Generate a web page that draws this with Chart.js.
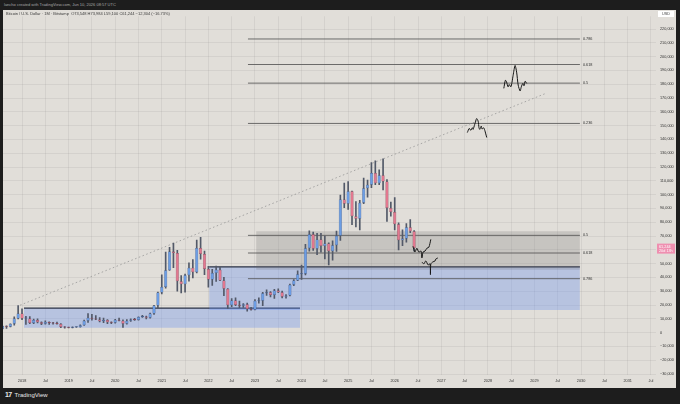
<!DOCTYPE html>
<html>
<head>
<meta charset="utf-8">
<title>BTCUSD 1M</title>
<script src="https://cdn.jsdelivr.net/npm/chart.js@4.4.1/dist/chart.umd.min.js"></script>
<style>
  html, body { margin:0; padding:0; }
  body { width:680px; height:404px; background:#1d1d1d; position:relative; overflow:hidden; font-family:"Liberation Sans", Arial, sans-serif; }
  #stamp { position:absolute; left:4px; top:2px; font-size:4px; line-height:5px; color:#a8a8a8; white-space:nowrap; }
  #pane { position:absolute; left:3px; top:10px; width:673px; height:378px; background:#e1ded9; }
  #legend { position:absolute; left:3px; top:1px; font-size:4px; line-height:5px; color:#3a3a3a; white-space:nowrap; z-index:2; }
  #foot { position:absolute; left:5px; top:391px; font-size:6px; line-height:8px; color:#e8e8e8; white-space:nowrap; }
  #foot b { font-size:7px; letter-spacing:-0.6px; margin-right:3px; }
</style>
</head>
<body>
<div id="stamp">lancho created with TradingView.com, Jun 10, 2026 08:57 UTC</div>
<div id="pane">
  <div id="legend">Bitcoin / U.S. Dollar · 1M · Bitstamp &nbsp;O73,548 H73,984 L59,100 C61,244 −12,304 (−16.73%)</div>
  <canvas id="btc" width="673" height="378"></canvas>
</div>
<div id="foot"><b>17</b>TradingView</div>
<script>
// months are counted from Jan 2018 (= 0); first candle is Aug 2017
const firstCandle = -5;

const opens = [
  2871, 4735, 4338, 6468, 10233,
  13850, 10265, 10325, 6925, 9240, 7495, 6390, 7730, 7020, 6625, 6320, 4040,
  3740, 3460, 3820, 4100, 5320, 8560, 10820, 10080, 9600, 8300, 9150, 7560,
  7190, 9350, 8550, 6420, 8630, 9450, 9140, 11350, 11660, 10780, 13800, 19700,
  29000, 33100, 45200, 58800, 57700, 37300, 35000, 41500, 47100, 43800, 61300, 57000,
  46200, 38500, 43200, 45500, 37700, 31800, 19900, 23300, 20000, 19400, 20500, 17200,
  16550, 23100, 23150, 28500, 29250, 27200, 30500, 29200, 25950, 26970, 34650, 37700,
  42300, 42600, 61200, 71300, 60700, 67500, 62700, 64600, 58900, 63300, 70200, 96400,
  93400, 102400, 84300, 82500, 94200, 104600, 107100, 115700, 108200, 114000, 109500, 90400,
  87500, 78600, 66900, 68300, 76300, 73548
];
const highs = [
  4760, 4975, 6470, 11500, 19666,
  17250, 11790, 11700, 9760, 10000, 7780, 8490, 7760, 7410, 7680, 6550, 4310,
  4070, 4200, 4140, 5610, 9080, 13880, 13200, 12330, 10950, 10540, 9510, 7750,
  9580, 10500, 9190, 9460, 10070, 10400, 11440, 12470, 12080, 14100, 19850, 29300,
  41950, 58350, 61800, 64900, 59600, 41300, 42400, 50500, 52900, 67000, 69000, 59100,
  48000, 45800, 48200, 47400, 40000, 32000, 24700, 25200, 22800, 21000, 21500, 18400,
  23950, 25200, 29200, 31000, 29800, 31400, 31800, 30200, 27500, 35200, 38500, 44700,
  48950, 64000, 73800, 72800, 71950, 72000, 70000, 65100, 66500, 73600, 99600, 108300,
  109400, 102500, 95000, 95800, 112000, 110500, 123200, 124500, 117900, 126000, 111000, 94600,
  97900, 79500, 74500, 79000, 82000, 73984
];
const lows = [
  2670, 2972, 4110, 5500, 10000,
  9400, 5900, 6580, 6430, 7035, 5750, 6070, 5880, 6100, 6200, 3550, 3150,
  3350, 3390, 3730, 4030, 5270, 7460, 9110, 9350, 7710, 7300, 6520, 6410,
  6860, 8450, 3850, 6150, 8100, 8900, 8980, 11100, 9880, 10430, 13200, 17600,
  28100, 32300, 45000, 47000, 30000, 28800, 29300, 37300, 39600, 43300, 53300, 42000,
  32900, 34300, 37200, 37600, 26700, 17600, 18800, 19600, 18100, 18200, 15500, 16300,
  16500, 21400, 19600, 26900, 25800, 24800, 28900, 25200, 24900, 26550, 34100, 37600,
  38500, 41900, 59100, 59600, 56500, 58400, 53500, 49000, 52600, 58900, 66800, 90500,
  89200, 78200, 76600, 74400, 93400, 98200, 105100, 107300, 107200, 103500, 80600, 84400,
  74500, 60000, 63000, 65600, 72500, 59100
];
const closes = [
  4735, 4338, 6468, 10233, 13850,
  10265, 10325, 6925, 9240, 7495, 6390, 7730, 7020, 6625, 6320, 4040, 3740,
  3460, 3820, 4100, 5320, 8560, 10820, 10080, 9600, 8300, 9150, 7560, 7190,
  9350, 8550, 6420, 8630, 9450, 9140, 11350, 11660, 10780, 13800, 19700, 29000,
  33100, 45200, 58800, 57700, 37300, 35000, 41500, 47100, 43800, 61300, 57000, 46200,
  38500, 43200, 45500, 37700, 31800, 19900, 23300, 20000, 19400, 20500, 17200, 16550,
  23100, 23150, 28500, 29250, 27200, 30500, 29200, 25950, 26970, 34650, 37700, 42300,
  42600, 61200, 71300, 60700, 67500, 62700, 64600, 58900, 63300, 70200, 96400, 93400,
  102400, 84300, 82500, 94200, 104600, 107100, 115700, 108200, 114000, 109500, 90400, 87500,
  78600, 66900, 68300, 76300, 73548, 61244
];

const xTickLabels = ['2018','Jul','2019','Jul','2020','Jul','2021','Jul','2022','Jul','2023','Jul','2024','Jul',
  '2025','Jul','2026','Jul','2027','Jul','2028','Jul','2029','Jul','2030','Jul','2031','Jul'];
const yTicks = [-30000,-20000,-10000,0,10000,20000,30000,40000,50000,60000,70000,80000,90000,100000,
  110000,120000,130000,140000,150000,160000,170000,180000,190000,200000,210000,220000];

// drawings (months, prices)
const box1Months = [0.5, 71.6],  box1Prices = [3500, 17800];
const box2Months = [48.2, 143.7], box2Prices = [16400, 47700];
const greyMonths = [60.3, 143.7], greyPrices = [45500, 73500];
const fibMonths = [58.2, 143.7];
const lowFibLevels = ['0.5', '0.618', '0.786'];
const lowFibPrices = [70500, 57700, 39100];
const highFibLevels = ['0.236', '0.5', '0.618', '0.786'];
const highFibPrices = [151600, 180800, 194300, 212800];
const trendMonths = [-0.5, 135.2], trendPrices = [19900, 173700];

const pathA1Months = [100.7, 101.2, 101.7, 102.2, 102.8, 103.0, 103.3, 103.8, 104.3, 104.8, 105.3];
const pathA1Prices = [62600, 58400, 61200, 58400, 59100, 54100, 58400, 59100, 61200, 61900, 67600];
const pathA2Months = [103.0, 103.5, 104.0, 104.6, 105.1, 105.2, 105.3, 105.8, 106.4, 106.6, 107.1];
const pathA2Prices = [51200, 49800, 52000, 49100, 49800, 42000, 49800, 51200, 52000, 53400, 54100];
const pathBMonths = [114.7, 115.2, 115.6, 116.0, 116.2, 116.6, 117.1, 117.5, 117.7, 117.9, 118.3, 118.5, 118.9, 119.2, 119.7];
const pathBPrices = [145000, 148000, 146600, 148500, 147300, 150900, 155100, 153200, 148500, 147300, 149700, 147500, 148500, 146600, 141400];
const pathCMonths = [124.1, 124.5, 124.8, 125.2, 125.5, 125.9, 126.2, 126.5, 127.0, 127.4, 127.8, 128.3, 128.6, 129.0, 129.3, 129.6, 130.0];
const pathCPrices = [177000, 182900, 181700, 178100, 179800, 178100, 181300, 186500, 193600, 188800, 179400, 175100, 178100, 180600, 178900, 182200, 180600];

const UP = '#6c9de4', DOWN = '#e2788f', UP_EDGE = '#46618f', DOWN_EDGE = '#8a4a5a', WICK = '#525968';
const FONT = '"Liberation Sans", Arial, sans-serif';

const pts = (ms, ps) => ms.map((m, i) => ({ x: m, y: ps[i] }));
const flat = (ms, p) => [{ x: ms[0], y: p }, { x: ms[1], y: p }];
const xs = opens.map((_, i) => firstCandle + i);
const rising = opens.map((o, i) => closes[i] >= o);
const fmt = v => (v < 0 ? '−' : '') + Math.abs(v).toLocaleString('en-US');

const datasets = [];
// range boxes
datasets.push({ type: 'line', data: flat(box1Months, box1Prices[1]), fill: { value: box1Prices[0] },
  backgroundColor: 'rgba(96,140,240,0.33)', borderColor: '#2b3245', borderWidth: 1.3, pointRadius: 0, order: 12 });
datasets.push({ type: 'line', data: flat(box2Months, box2Prices[1]), fill: { value: box2Prices[0] },
  backgroundColor: 'rgba(96,140,240,0.33)', borderColor: '#2b3245', borderWidth: 1.3, pointRadius: 0, order: 11 });
datasets.push({ type: 'line', data: flat(greyMonths, greyPrices[1]), fill: { value: greyPrices[0] },
  backgroundColor: 'rgba(105,105,105,0.22)', borderWidth: 0, pointRadius: 0, order: 10 });
// fib levels
lowFibPrices.concat(highFibPrices).forEach(p => {
  datasets.push({ type: 'line', data: flat(fibMonths, p), borderColor: '#4d4d4d', borderWidth: 0.8, pointRadius: 0, fill: false, order: 9 });
});
// trend line
datasets.push({ type: 'line', data: pts(trendMonths, trendPrices), borderColor: '#959595', borderWidth: 0.8,
  borderDash: [1.5, 2.5], pointRadius: 0, fill: false, order: 8 });
// candles
datasets.push({ type: 'bar', data: xs.map((x, i) => ({ x, y: [lows[i], highs[i]] })),
  backgroundColor: WICK, barThickness: 1, grouped: false, order: 4 });
datasets.push({ type: 'bar', data: xs.map((x, i) => ({ x, y: [opens[i], closes[i]] })),
  backgroundColor: rising.map(r => r ? UP : DOWN), borderColor: rising.map(r => r ? UP_EDGE : DOWN_EDGE),
  borderWidth: 0.5, borderSkipped: false, barPercentage: 0.82, categoryPercentage: 1, minBarLength: 1,
  grouped: false, order: 3 });
// hand-drawn projections
[[pathA1Months, pathA1Prices], [pathA2Months, pathA2Prices], [pathBMonths, pathBPrices], [pathCMonths, pathCPrices]].forEach(([m, p]) => {
  datasets.push({ type: 'line', data: pts(m, p), borderColor: '#151515', borderWidth: 1, tension: 0.25,
    pointRadius: 0, fill: false, order: 1 });
});

const notes = {
  id: 'notes',
  afterDatasetsDraw(chart) {
    const { ctx, chartArea, scales: { x, y } } = chart;
    ctx.save();
    ctx.font = '3.8px ' + FONT;
    ctx.fillStyle = '#333';
    ctx.textBaseline = 'middle';
    const lx = x.getPixelForValue(fibMonths[1]) + 3;
    lowFibLevels.forEach((t, i) => ctx.fillText(t, lx, y.getPixelForValue(lowFibPrices[i])));
    highFibLevels.forEach((t, i) => ctx.fillText(t, lx, y.getPixelForValue(highFibPrices[i])));
    // last price tag
    const last = closes[closes.length - 1];
    const py = y.getPixelForValue(last);
    ctx.fillStyle = '#ef8fb0';
    ctx.fillRect(chartArea.right + 1, py - 4.5, 18, 10);
    ctx.fillStyle = '#ffffff';
    ctx.fillText(fmt(last), chartArea.right + 3, py - 1.5);
    ctx.fillText('20d 13h', chartArea.right + 3, py + 2.5);
    // currency box
    ctx.fillStyle = '#ffffff';
    ctx.fillRect(chartArea.right + 2, 1, 16, 6);
    ctx.fillStyle = '#444';
    ctx.fillText('USD', chartArea.right + 6, 4);
    ctx.restore();
  }
};

new Chart(document.getElementById('btc'), {
  type: 'bar',
  data: { datasets },
  plugins: [notes],
  options: {
    responsive: false,
    animation: false,
    layout: { padding: 0 },
    plugins: { legend: { display: false }, tooltip: { enabled: false } },
    scales: {
      x: {
        type: 'linear', min: -4.9, max: 163.3, offset: false,
        grid: { color: 'rgba(0,0,0,0.055)', offset: false, drawTicks: false },
        border: { display: false },
        afterBuildTicks: s => { s.ticks = xTickLabels.map((_, i) => ({ value: i * 6 })); },
        afterFit: s => { s.height = 13; },
        ticks: { autoSkip: false, maxRotation: 0, padding: 4, color: '#333', font: { size: 3.8, family: FONT },
          callback: (v, i) => xTickLabels[i] }
      },
      y: {
        position: 'right', min: -30700, max: 229250,
        grid: { color: 'rgba(0,0,0,0.055)', drawTicks: false },
        border: { display: false },
        afterBuildTicks: s => { s.ticks = yTicks.map(v => ({ value: v })); },
        afterFit: s => { s.width = 20; },
        ticks: { padding: 4, color: '#333', font: { size: 3.8, family: FONT }, callback: v => fmt(v) }
      }
    }
  }
});
</script>
</body>
</html>
